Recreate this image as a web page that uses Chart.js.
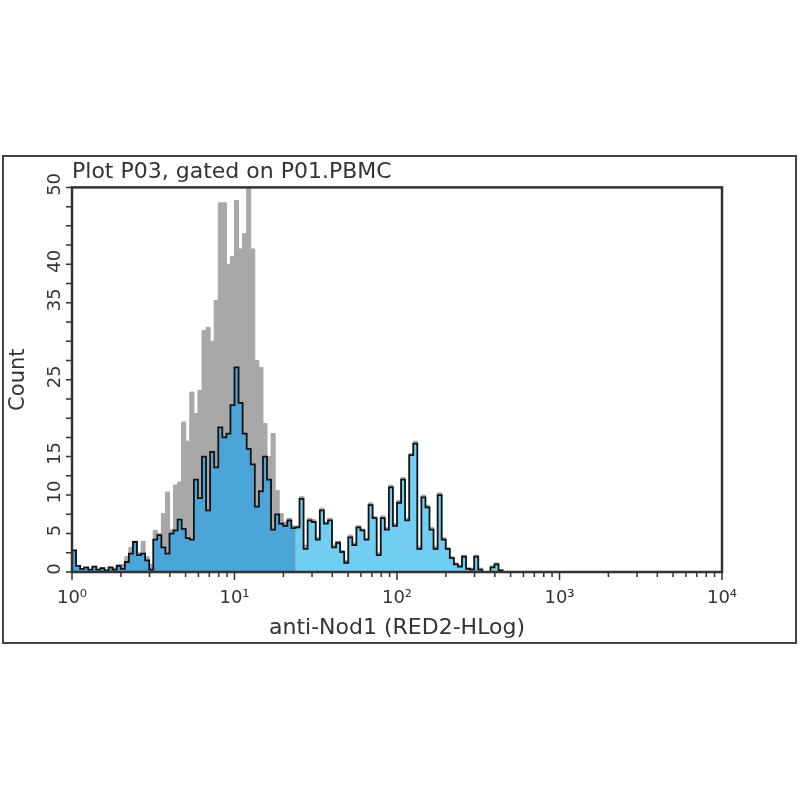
<!DOCTYPE html>
<html>
<head>
<meta charset="utf-8">
<title>Plot P03, gated on P01.PBMC</title>
<script src="https://cdn.jsdelivr.net/npm/chart.js@4.4.1/dist/chart.umd.min.js"></script>
<style>
  html, body { margin: 0; padding: 0; background: #fff; }
  .frame {
    position: absolute; left: 2px; top: 155px;
    width: 795px; height: 489px;
    box-sizing: border-box; border: 2px solid #444;
  }
</style>
</head>
<body>
<div class="frame"><canvas id="histChart"></canvas></div>
<script>
document.addEventListener("DOMContentLoaded", function() {

// Histogram bins: log scale, 40 channels per decade starting at 10^0
const firstDecade = 0;
const binsPerDecade = 40;

const xTickLabels = ['10⁰', '10¹', '10²', '10³', '10⁴'];
const yTickLabels = [0, 5, 10, 15, 25, 35, 40, 50];

// grey (behind) histogram
const grayCounts = [
  2.8, 0.8, 0.4, 0.6, 0.3, 0.7, 0.3, 0.5, 0.2, 0.6,
  0.5, 1.0, 1.0, 2.0, 3.2, 4.0, 2.5, 4.0, 2.0, 1.0,
  5.4, 5.0, 7.6, 10.4, 5.5, 11.3, 11.7, 19.5, 17, 23.4,
  20.6, 23.6, 31.4, 31.8, 30, 35.3, 48, 48, 40, 41,
  48.3, 42, 44, 50, 42, 27.5, 26.6, 19.3, 15, 18,
  10.6, 7.6, 6.5, 7, 6, 6, 9.8, 3.5, 7, 6.8,
  4.5, 8.3, 6.5, 7, 3.5, 4, 2.8, 1.5, 4.8, 3.8,
  6, 5.6, 4.4, 9, 7.2, 2.5, 7.3, 5.8, 11.3, 6.3,
  9.3, 12.3, 7, 15.4, 17, 3.3, 10, 8.7, 5.8, 3.3,
  10.3, 4.5, 3.2, 2, 1.2, 0.9, 2.2, 0.6, 0.5, 2.2,
  0.5, 0, 0, 0.8, 1.2, 0.3
];

// blue (anti-Nod1) histogram
const blueCounts = [
  2.8, 0.8, 0.4, 0.6, 0.3, 0.7, 0.3, 0.5, 0.2, 0.6,
  0.3, 0.8, 0.4, 1.3, 2.4, 3.9, 2.2, 2.4, 1.5, 0.3,
  4.2, 4.8, 3.2, 2.4, 5, 5.4, 6.8, 5.6, 4.4, 4.2,
  12, 9.6, 15, 8, 15.6, 13.6, 18.8, 17.5, 18, 21.7,
  26.6, 22, 18, 16, 14, 8.5, 10.5, 15, 12, 5.5,
  7.5, 6.3, 6, 6.7, 5.7, 5.8, 9.5, 3, 6.7, 6.5,
  4.2, 8, 6.3, 6.7, 3.2, 3.8, 2.6, 1.2, 4.5, 3.5,
  5.8, 5.4, 4.2, 8.7, 7, 2.2, 7, 5.5, 11, 6,
  9, 12, 6.7, 15.2, 16.7, 3, 9.7, 8.4, 5.5, 3,
  10, 4.2, 3, 1.8, 1, 0.7, 2, 0.4, 0.3, 2,
  0.3, 0, 0, 0.6, 1, 0.2
];

// first bin painted in the lighter blue
const gateBin = 55;

const fontFamily = "'DejaVu Sans', Verdana, sans-serif";
const textColor = '#333';

function binEdge(i) {
  return Math.pow(10, firstDecade + i / binsPerDecade);
}

// step points on the left edge of each bin, closed back to 0
function toSteps(counts, from, to) {
  const pts = [];
  for (let i = from; i < to; i++) {
    pts.push({ x: binEdge(i), y: counts[i] });
  }
  pts.push({ x: binEdge(to), y: 0 });
  return pts;
}

// tick marks, rotated y labels and plot frame
const axisDecor = {
  id: 'axisDecor',
  afterDraw(chart) {
    const { ctx, chartArea: a, scales: { x, y } } = chart;
    ctx.save();
    ctx.strokeStyle = '#333';
    ctx.lineWidth = 1.5;
    ctx.beginPath();
    for (let k = 0; k <= 4; k++) {
      for (let m = 1; m <= 9; m++) {
        if (k === 4 && m > 1) break;
        const px = x.getPixelForValue(m * Math.pow(10, k));
        const len = m === 1 ? 8 : 5;
        ctx.moveTo(px, a.bottom);
        ctx.lineTo(px, a.bottom + len);
      }
    }
    for (let v = 0; v <= 50; v += 2.5) {
      const py = y.getPixelForValue(v);
      ctx.moveTo(a.left - 6, py);
      ctx.lineTo(a.left, py);
    }
    ctx.stroke();

    ctx.lineWidth = 2.5;
    ctx.strokeRect(a.left, a.top, a.right - a.left, a.bottom - a.top);

    ctx.fillStyle = textColor;
    ctx.font = '18px ' + fontFamily;
    ctx.textAlign = 'center';
    ctx.textBaseline = 'middle';
    yTickLabels.forEach(function(v) {
      const py = y.getPixelForValue(v);
      ctx.save();
      ctx.translate(a.left - 17, py - 3);
      ctx.rotate(-Math.PI / 2);
      ctx.fillText(String(v), 0, 0);
      ctx.restore();
    });
    ctx.restore();
  }
};

const ctxHist = document.getElementById('histChart');

new Chart(ctxHist, {
  type: 'line',
  data: {
    datasets: [
      {
        label: 'outline',
        data: toSteps(blueCounts, 0, blueCounts.length),
        stepped: true,
        fill: false,
        borderColor: '#111',
        borderWidth: 1.8,
        order: 1
      },
      {
        label: 'gated',
        data: toSteps(blueCounts, gateBin, blueCounts.length),
        stepped: true,
        fill: 'origin',
        backgroundColor: '#72cdf3',
        borderColor: 'rgba(0,0,0,0)',
        order: 2
      },
      {
        label: 'anti-Nod1',
        data: toSteps(blueCounts, 0, gateBin),
        stepped: true,
        fill: 'origin',
        backgroundColor: '#4ba5d8',
        borderColor: 'rgba(0,0,0,0)',
        order: 3
      },
      {
        label: 'control',
        data: toSteps(grayCounts, 0, grayCounts.length),
        stepped: true,
        fill: 'origin',
        backgroundColor: '#a8a8a8',
        borderColor: '#a8a8a8',
        borderWidth: 1,
        order: 4
      }
    ]
  },
  options: {
    responsive: true,
    maintainAspectRatio: false,
    animation: false,
    layout: { padding: { left: 0, right: 73, top: 0, bottom: 0 } },
    elements: { point: { radius: 0 } },
    scales: {
      x: {
        type: 'logarithmic',
        min: 1,
        max: 10000,
        grid: { display: false, drawTicks: false },
        border: { display: false },
        ticks: {
          autoSkip: false,
          maxRotation: 0,
          padding: 16,
          color: textColor,
          font: { family: fontFamily, size: 18 },
          callback: function(v) {
            const e = Math.round(Math.log10(v));
            return Math.abs(Math.pow(10, e) - v) < 1e-9 ? xTickLabels[e] : '';
          }
        },
        title: {
          display: true,
          text: 'anti-Nod1 (RED2-HLog)',
          color: textColor,
          font: { family: fontFamily, size: 22 },
          padding: { top: 0, bottom: 1 }
        },
        afterFit: function(s) { s.height = 70; }
      },
      y: {
        min: 0,
        max: 50,
        grid: { display: false, drawTicks: false },
        border: { display: false },
        ticks: { display: false },
        title: {
          display: true,
          text: 'Count',
          color: textColor,
          font: { family: fontFamily, size: 21 },
          padding: { top: 2, bottom: 0 }
        },
        afterFit: function(s) { s.width = 68; }
      }
    },
    plugins: {
      legend: { display: false },
      tooltip: { enabled: false },
      title: {
        display: true,
        text: 'Plot P03, gated on P01.PBMC',
        align: 'start',
        fullSize: false,
        color: textColor,
        font: { family: fontFamily, size: 22, weight: 'normal' },
        padding: { top: 2, bottom: 2 }
      }
    }
  },
  plugins: [axisDecor]
});

});
</script>
</body>
</html>
